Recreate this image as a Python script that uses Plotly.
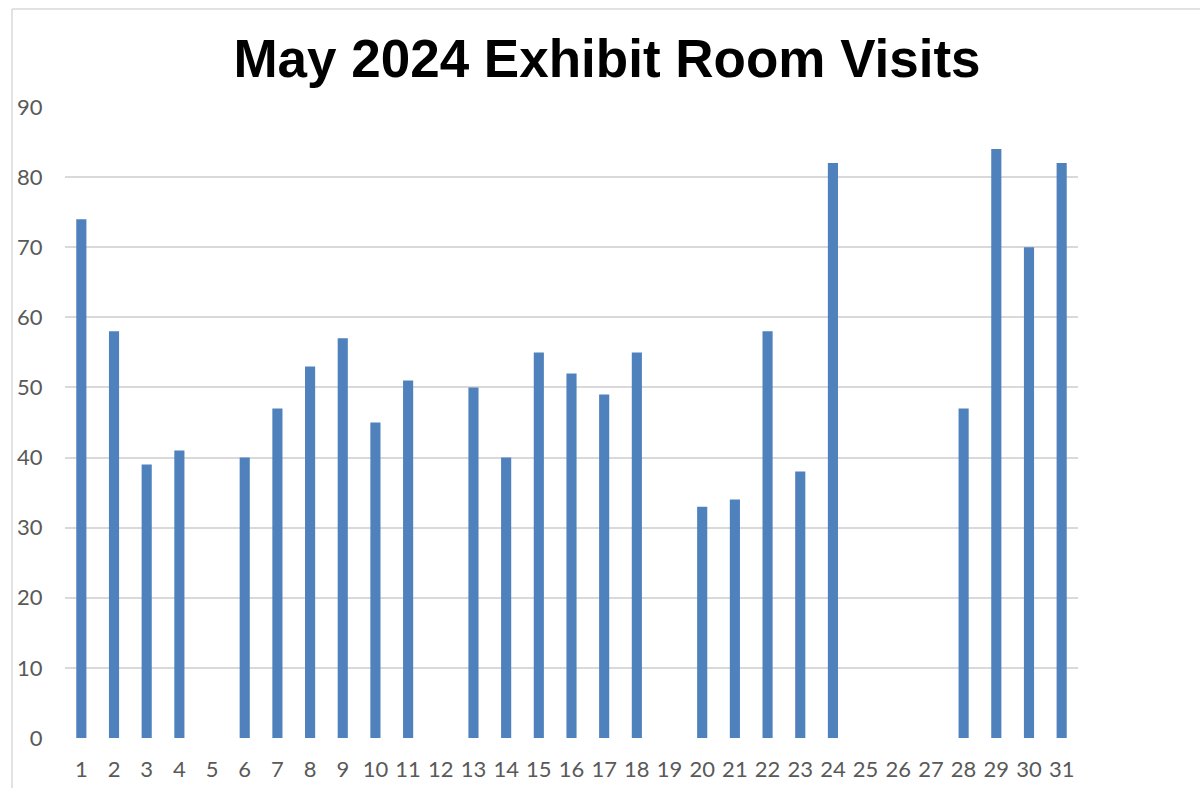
import plotly.graph_objects as go

days = [str(d) for d in range(1, 32)]
visits = [74, 58, 39, 41, None, 40, 47, 53, 57, 45, 51, None, 50, 40, 55, 52, 49, 55,
          None, 33, 34, 58, 38, 82, None, None, None, 47, 84, 70, 82]
y_ticks = list(range(0, 100, 10))
title_text = "May 2024 Exhibit Room Visits"

W, H = 1200, 788
L, R, T, B = 65, 122, 107, 50
pw, ph = W - L - R, H - T - B

fig = go.Figure()
fig.add_trace(go.Bar(x=days, y=visits, marker=dict(color="#4f81bd", line=dict(width=0)),
                     width=0.31))

def px_x(p):
    return (p - L) / pw

def px_y(p):
    return 1 - (p - T) / ph

tick_font = dict(family="Lato, Open Sans", size=22, color="#595959")

fig.update_layout(
    width=W, height=H,
    margin=dict(l=L, r=R, t=T, b=B, autoexpand=False),
    paper_bgcolor="white", plot_bgcolor="white",
    showlegend=False,
    title=dict(text=f"<b>{title_text}</b>", x=607 / W, xanchor="center",
               yref="container", y=1 - 58 / H, yanchor="middle",
               font=dict(family="Liberation Sans, Arial", size=53, color="black")),
    xaxis=dict(type="category", showgrid=False, showline=False, zeroline=False,
               automargin=False,
               ticks="outside", ticklen=12, tickcolor="rgba(0,0,0,0)",
               tickfont=tick_font),
    yaxis=dict(range=[0, 90], tickvals=y_ticks, showgrid=True, gridcolor="#d9d9d9",
               gridwidth=1.5, zeroline=False, showline=False, automargin=False,
               ticks="outside", ticklen=17, tickcolor="rgba(0,0,0,0)",
               tickfont=tick_font),
    shapes=[
        dict(type="line", xref="paper", yref="paper", x0=px_x(12), x1=px_x(12),
             y0=px_y(9), y1=px_y(H + 5), line=dict(color="#d9d9d9", width=1.5)),
        dict(type="line", xref="paper", yref="paper", x0=px_x(12), x1=px_x(W + 5),
             y0=px_y(9), y1=px_y(9), line=dict(color="#d9d9d9", width=1.5)),
    ],
)

fig.write_html("out.html", config={"displayModeBar": False},
               post_script="document.body.style.margin='0';document.body.style.padding='0';")
